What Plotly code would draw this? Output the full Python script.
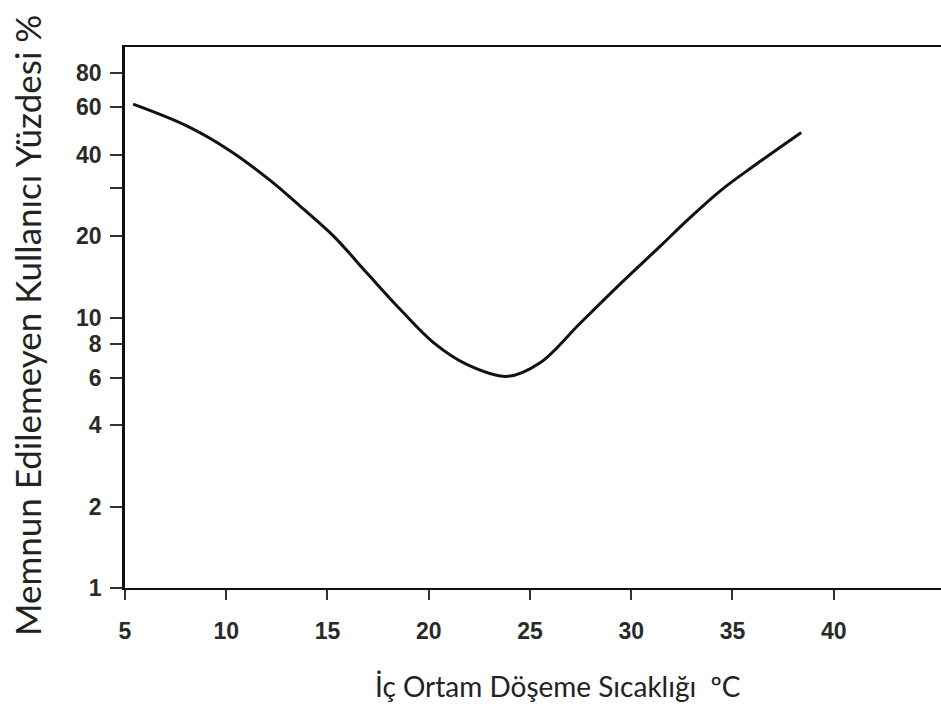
import plotly.graph_objects as go

# Floor surface temperature (°C) and percentage of dissatisfied occupants
floor_temp = [5.4, 8.05, 10.2, 12.2, 13.65, 15.3, 16.95, 18.6, 20.25, 21.9,
              23.9, 25.5, 27.5, 29.5, 31.45, 32.8, 34.4, 36.05, 38.4]
dissatisfied = [61.5, 51.1, 41.3, 32.0, 25.8, 20.0, 14.6, 10.7, 8.06, 6.7,
                6.06, 6.8, 9.56, 13.4, 18.4, 23.0, 29.4, 36.3, 48.3]

x_ticks = [5, 10, 15, 20, 25, 30, 35, 40]
y_ticks = [1, 2, 4, 6, 8, 10, 20, 30, 40, 60, 80]
y_tick_text = ["1", "2", "4", "6", "8", "10", "20", "", "40", "60", "80"]

x_title = "İç Ortam Döşeme Sıcaklığı  ºC"
y_title = "Memnun Edilemeyen Kullanıcı Yüzdesi %"

tick_font = dict(family="Liberation Sans, Arial, sans-serif", size=23,
                 color="#2a2a2a", weight="bold")
x_title_font = dict(family="Lato, Open Sans, sans-serif", size=28, color="#222222")
y_title_font = dict(family="Lato, Open Sans, sans-serif", size=35, color="#222222")

fig = go.Figure()
fig.add_trace(go.Scatter(
    x=floor_temp, y=dissatisfied, mode="lines",
    line=dict(color="#111111", width=3, shape="spline", smoothing=1.0),
    hoverinfo="skip", showlegend=False,
))

fig.update_layout(
    width=941, height=706,
    margin=dict(l=125, r=0, t=47, b=118),
    paper_bgcolor="white", plot_bgcolor="white",
    xaxis=dict(
        range=[5, 45.3], tickvals=x_ticks, ticktext=[str(v) for v in x_ticks],
        showgrid=False, zeroline=False,
        showline=True, linecolor="#111111", linewidth=2, mirror=True,
        ticks="outside", ticklen=10, tickwidth=2, tickcolor="#333333",
        tickfont=tick_font, ticklabelstandoff=11,
    ),
    yaxis=dict(
        type="log", range=[0, 2.0], tickvals=y_ticks, ticktext=y_tick_text,
        showgrid=False, zeroline=False,
        showline=True, linecolor="#111111", linewidth=2.5,
        ticks="outside", ticklen=12, tickwidth=2, tickcolor="#333333",
        tickfont=tick_font, ticklabelstandoff=4,
    ),
    annotations=[
        dict(text=x_title, xref="paper", yref="paper", x=(558 - 125) / 816,
             y=-(686 - 588) / 541, xanchor="center", yanchor="middle",
             showarrow=False, font=x_title_font),
        dict(text=y_title, xref="paper", yref="paper", x=-(125 - 27) / 816,
             y=(588 - 326) / 541, xanchor="center", yanchor="middle",
             textangle=-90, showarrow=False, font=y_title_font),
    ],
)

fig.write_html("out.html")
